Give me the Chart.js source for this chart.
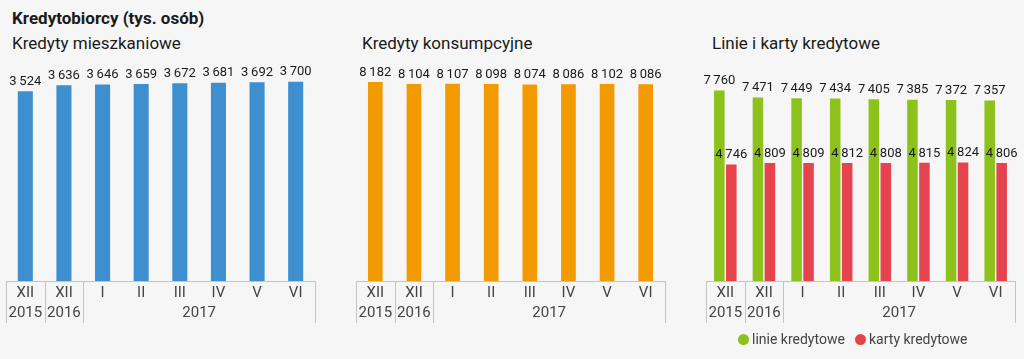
<!DOCTYPE html>
<html>
<head>
<meta charset="utf-8">
<script src="https://cdn.jsdelivr.net/npm/chart.js@4"></script>
<style>
  html, body { margin: 0; padding: 0; background: #f6f6f6; }
  #wrap { position: relative; width: 1024px; height: 359px; overflow: hidden; font-family: Roboto, sans-serif; color: #1a1a1a; }
  canvas { position: absolute; top: 0; }
  .title { position: absolute; left: 12px; top: 8px; font-size: 17px; font-weight: bold; }
  .sub { position: absolute; top: 33px; font-size: 17px; }
  .legend { position: absolute; top: 331px; font-size: 14px; color: #444; white-space: nowrap; }
  .dot { display: inline-block; width: 11px; height: 11px; border-radius: 50%; vertical-align: -1px; margin-right: 3px; }
</style>
</head>
<body>
<div id="wrap">
  <div class="title">Kredytobiorcy (tys. osób)</div>
  <div class="sub" style="left:12px">Kredyty mieszkaniowe</div>
  <div class="sub" style="left:362px">Kredyty konsumpcyjne</div>
  <div class="sub" style="left:712px">Linie i karty kredytowe</div>
  <canvas id="c1" width="340" height="359" style="left:0px"></canvas>
  <canvas id="c2" width="340" height="359" style="left:350px"></canvas>
  <canvas id="c3" width="324" height="359" style="left:700px"></canvas>
  <div class="legend" style="left:738px"><span class="dot" style="background:#8cc21b"></span>linie kredytowe</div>
  <div class="legend" style="left:855px"><span class="dot" style="background:#e5444e"></span>karty kredytowe</div>
</div>
<script>
const months = ['XII', 'XII', 'I', 'II', 'III', 'IV', 'V', 'VI'];
const yearLabels = ['2015', '2016', '2017'];
const yearSpans = [1, 1, 6];

const mieszkaniowe = [3524, 3636, 3646, 3659, 3672, 3681, 3692, 3700];
const konsumpcyjne = [8182, 8104, 8107, 8098, 8074, 8086, 8102, 8086];
const linieKredytowe = [7760, 7471, 7449, 7434, 7405, 7385, 7372, 7357];
const kartyKredytowe = [4746, 4809, 4809, 4812, 4808, 4815, 4824, 4806];

const labelFont = "13px Roboto, sans-serif";
const axisFont = "15px 'Liberation Sans Narrow', Roboto, sans-serif";

function fmt(v) {
    return String(v).replace(/\B(?=(\d{3})+(?!\d))/g, '\u2009');
}

// axis rows (months, years, separators) + value labels
const axisPlugin = {
    id: 'axisRows',
    afterDatasetsDraw(chart) {
        const { ctx, chartArea, scales: { x } } = chart;
        const bottom = chartArea.bottom;
        ctx.save();
        ctx.strokeStyle = '#c4c4c4';
        ctx.lineWidth = 1;
        ctx.beginPath();
        ctx.moveTo(x.getPixelForValue(-0.5), bottom + 0.5);
        ctx.lineTo(x.getPixelForValue(months.length - 0.5), bottom + 0.5);
        let idx = 0;
        const bounds = [-0.5];
        yearSpans.forEach(s => { idx += s; bounds.push(idx - 0.5); });
        bounds.forEach(b => {
            const px = Math.round(x.getPixelForValue(b)) + 0.5;
            ctx.moveTo(px, bottom);
            ctx.lineTo(px, bottom + 42);
        });
        ctx.stroke();

        ctx.fillStyle = '#444';
        ctx.font = axisFont;
        ctx.textAlign = 'center';
        ctx.textBaseline = 'middle';
        months.forEach((m, i) => ctx.fillText(m, x.getPixelForValue(i), bottom + 12));
        idx = 0;
        yearLabels.forEach((y, i) => {
            const mid = x.getPixelForValue(idx + (yearSpans[i] - 1) / 2);
            ctx.fillText(y, mid, bottom + 32);
            idx += yearSpans[i];
        });

        ctx.fillStyle = '#1a1a1a';
        ctx.font = labelFont;
        ctx.textBaseline = 'bottom';
        chart.data.datasets.forEach((ds, di) => {
            chart.getDatasetMeta(di).data.forEach((bar, i) => {
                ctx.fillText(fmt(ds.data[i]), bar.x, bar.y - 3);
            });
        });
        ctx.restore();
    }
};

function makeChart(id, datasets, yMax, padRight, catPct, barPct) {
    return new Chart(document.getElementById(id), {
        type: 'bar',
        data: { labels: months, datasets },
        options: {
            responsive: false,
            animation: false,
            events: [],
            layout: { padding: { left: 6, right: padRight, top: 65, bottom: 78 } },
            datasets: { bar: { categoryPercentage: catPct, barPercentage: barPct } },
            plugins: { legend: { display: false }, tooltip: { enabled: false } },
            scales: {
                x: { display: false, offset: true },
                y: { display: false, min: 0, max: yMax }
            }
        },
        plugins: [axisPlugin]
    });
}

makeChart('c1', [{ data: mieszkaniowe, backgroundColor: '#3d8fd0' }], 4010, 25, 1, 0.39);
makeChart('c2', [{ data: konsumpcyjne, backgroundColor: '#f39a00' }], 8880, 25, 1, 0.38);
makeChart('c3', [
    { data: linieKredytowe, backgroundColor: '#8cc21b' },
    { data: kartyKredytowe, backgroundColor: '#e5444e' }
], 8800, 9, 0.62, 0.88);
</script>
</body>
</html>
